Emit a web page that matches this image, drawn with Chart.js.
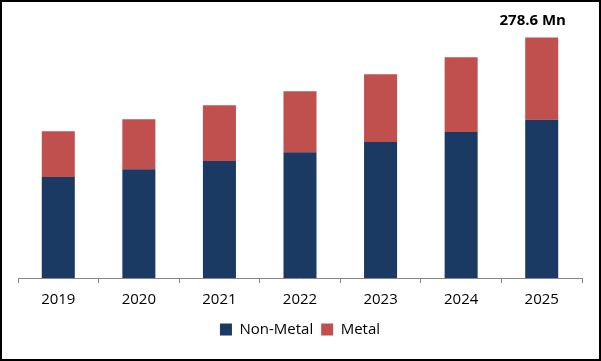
<!DOCTYPE html>
<html>
<head>
<meta charset="utf-8">
<script src="https://cdn.jsdelivr.net/npm/chart.js@4/dist/chart.umd.min.js"></script>
<style>
  body { margin: 0; background: #fff; }
  #wrap { width: 601px; height: 361px; box-sizing: border-box; border: 2px solid #000; }
</style>
</head>
<body>
<div id="wrap"><canvas id="myChart" width="597" height="357"></canvas></div>
<script>
// categories
var years = ['2019', '2020', '2021', '2022', '2023', '2024', '2025'];
// series values (Mn)
var nonMetal = [116.9, 126.1, 135.4, 145.8, 157.4, 169.0, 183.2];
var metal = [53.2, 57.9, 64.8, 70.6, 78.7, 86.8, 95.4];
// label over the last bar
var totalLabel = '278.6 Mn';

var FONT = "'Open Sans', sans-serif";

// writes the total above the last bar
var topLabel = {
    id: 'topLabel',
    afterDatasetsDraw: function (chart) {
        var ctx = chart.ctx;
        var last = years.length - 1;
        var x = chart.scales.x.getPixelForValue(last);
        var y = chart.scales.y.getPixelForValue(nonMetal[last] + metal[last]);
        ctx.save();
        ctx.font = 'bold 15px ' + FONT;
        ctx.fillStyle = '#000';
        ctx.textAlign = 'center';
        ctx.textBaseline = 'alphabetic';
        ctx.fillText(totalLabel, x - 9, y - 12);
        ctx.restore();
    }
};

var ctx = document.getElementById('myChart').getContext('2d');
var myChart = new Chart(ctx, {
    type: 'bar',
    data: {
        labels: years,
        datasets: [{
            label: 'Non-Metal',
            data: nonMetal,
            backgroundColor: '#1B3A63',
            barPercentage: 0.41,
            categoryPercentage: 1
        }, {
            label: 'Metal',
            data: metal,
            backgroundColor: '#C0504D',
            barPercentage: 0.41,
            categoryPercentage: 1
        }]
    },
    options: {
        responsive: false,
        animation: false,
        layout: { padding: { left: 16, right: 17, top: 17, bottom: 12 } },
        plugins: {
            legend: {
                position: 'bottom',
                labels: {
                    boxWidth: 12,
                    boxHeight: 12,
                    padding: 8,
                    color: '#000',
                    font: { family: FONT, size: 15 }
                }
            },
            tooltip: { enabled: false }
        },
        scales: {
            x: {
                stacked: true,
                afterFit: function (scale) { scale.height = 36; },
                grid: {
                    offset: true,
                    drawOnChartArea: false,
                    drawTicks: true,
                    tickLength: 5,
                    color: '#868686'
                },
                border: { color: '#868686', width: 1 },
                ticks: {
                    color: '#000',
                    padding: 9.5,
                    font: { family: FONT, size: 15, lineHeight: 1 }
                }
            },
            y: {
                stacked: true,
                display: false,
                min: 0,
                max: 300
            }
        }
    },
    plugins: [topLabel]
});
</script>
</body>
</html>
